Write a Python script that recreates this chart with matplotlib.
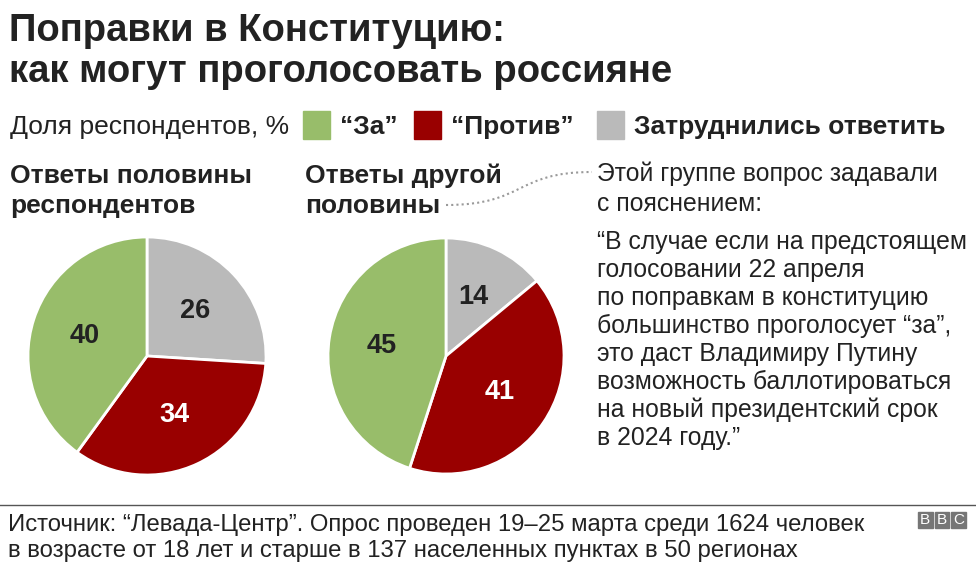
import matplotlib.pyplot as plt
from matplotlib.patches import Rectangle, PathPatch
from matplotlib.path import Path

# данные опроса
categories = ['Затруднились ответить', '“Против”', '“За”']
half_one = [26, 34, 40]
half_two = [14, 41, 45]
colors = ['#bababa', '#990000', '#98bd6a']
label_colors = ['#222222', 'white', '#222222']
legend_order = [2, 1, 0]

W, H = 976, 575
plt.rcParams['font.family'] = ['Liberation Sans', 'DejaVu Sans']
fig = plt.figure(figsize=(W / 100, H / 100), dpi=100)
dark = '#222222'


def fx(x):
    return x / W


def fy(y):
    return 1 - y / H


def txt(x, y, s, size, bold=False, color=dark, va='baseline', **kw):
    fig.text(fx(x), fy(y), s, fontsize=size, color=color, va=va,
             fontweight='bold' if bold else 'normal', **kw)


# заголовок
txt(9, 41, 'Поправки в Конституцию:', 27.5, bold=True)
txt(9, 82, 'как могут проголосовать россияне', 27.5, bold=True)

# легенда
txt(10, 134, 'Доля респондентов, %', 19)
legend_x = [303, 414, 597]
for i, x0 in zip(legend_order, legend_x):
    fig.patches.append(Rectangle((fx(x0), fy(139)), 27 / W, 28 / H,
                                 transform=fig.transFigure, color=colors[i]))
    txt(x0 + 37, 134, categories[i], 19, bold=True)

# подписи к диаграммам
txt(10, 183, 'Ответы половины', 19, bold=True)
txt(10, 213, 'респондентов', 19, bold=True)
txt(305, 183, 'Ответы другой', 19, bold=True)
txt(305, 213, 'половины', 19, bold=True)

# пунктирная линия к пояснению
p0, p3 = (446, 205), (592, 172)
verts = [(fx(p0[0]), fy(p0[1])), (fx(525), fy(205)),
         (fx(515), fy(172)), (fx(p3[0]), fy(p3[1]))]
path = Path(verts, [Path.MOVETO, Path.CURVE4, Path.CURVE4, Path.CURVE4])
fig.patches.append(PathPatch(path, transform=fig.transFigure, fill=False,
                             edgecolor='#9a9a9a', lw=1.5, linestyle=(0, (1, 1.5))))

note = ['Этой группе вопрос задавали', 'с пояснением:']
for k, line in enumerate(note):
    txt(597, 181 + k * 30, line, 17.8)
quote = ['“В случае если на предстоящем', 'голосовании 22 апреля',
         'по поправкам в конституцию', 'большинство проголосует “за”,',
         'это даст Владимиру Путину', 'возможность баллотироваться',
         'на новый президентский срок', 'в 2024 году.”']
for k, line in enumerate(quote):
    txt(597, 249 + k * 28, line, 17.8)


# круговые диаграммы
def pie(cx, cy, r, values):
    ax = fig.add_axes([fx(cx - r), fy(cy + r), 2 * r / W, 2 * r / H])
    wedges, _, autotexts = ax.pie(values, colors=colors, startangle=90,
                                  counterclock=False, autopct='%d',
                                  pctdistance=0.55,
                                  wedgeprops=dict(edgecolor='white', linewidth=2))
    for t, c in zip(autotexts, label_colors):
        t.set_color(c)
        t.set_fontsize(19.5)
        t.set_fontweight('bold')
    ax.set_xlim(-1, 1)
    ax.set_ylim(-1, 1)
    ax.set_aspect('equal')
    for w in wedges:
        w.set_clip_on(False)


pie(147, 356, 119, half_one)
pie(446, 356, 118, half_two)

# подвал
fig.add_artist(plt.Line2D([0, 1], [fy(505), fy(505)], color='#555555', lw=1))
txt(8, 531, 'Источник: “Левада-Центр”. Опрос проведен 19–25 марта среди 1624 человек', 17.2)
txt(8, 557, 'в возрасте от 18 лет и старше в 137 населенных пунктах в 50 регионах', 17.2)

for k, ch in enumerate('BBC'):
    x0 = 918 + k * 16.5
    fig.patches.append(Rectangle((fx(x0), fy(528)), 14.5 / W, 16 / H,
                                 transform=fig.transFigure, color='#767676'))
    txt(x0 + 7.25, 520.5, ch, 11, color='white', va='center', ha='center')

fig.savefig('out.png', dpi=100)
